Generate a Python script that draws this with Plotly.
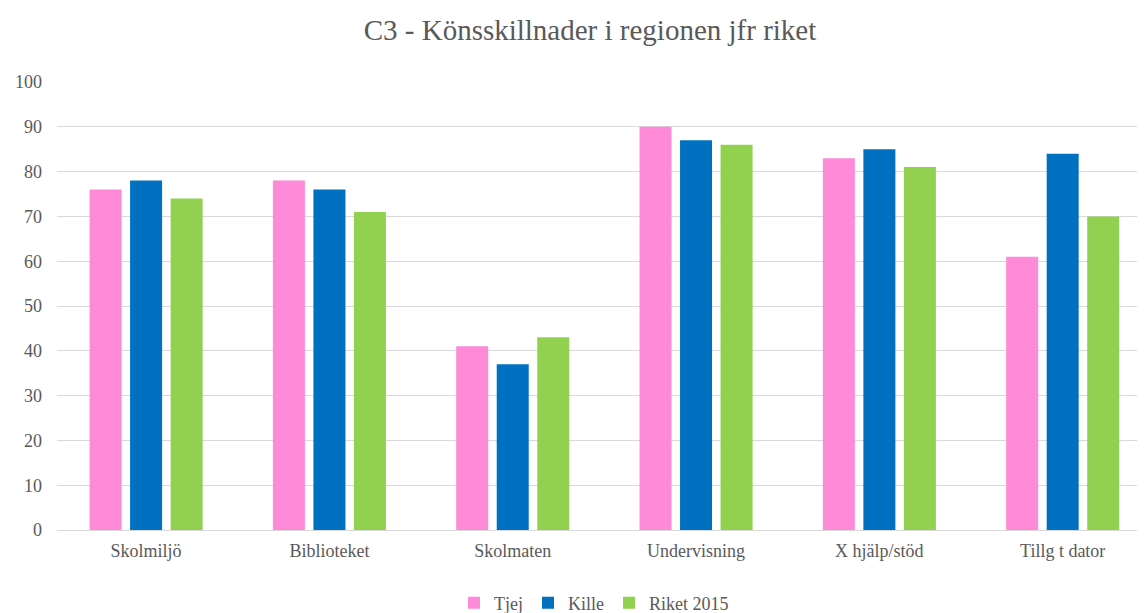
import plotly.graph_objects as go

categories = ["Skolmiljö", "Biblioteket", "Skolmaten", "Undervisning", "X hjälp/stöd", "Tillg t dator"]
tjej = [76, 78, 41, 90, 83, 61]
kille = [78, 76, 37, 87, 85, 84]
riket = [74, 71, 43, 86, 81, 70]
y_ticks = [0, 10, 20, 30, 40, 50, 60, 70, 80, 90, 100]

series = [("Tjej", tjej, "#FF8AD8"), ("Kille", kille, "#0070C0"), ("Riket 2015", riket, "#92D050")]

fig = go.Figure()
for name, vals, col in series:
    fig.add_trace(go.Bar(x=categories, y=vals, name=name, marker=dict(color=col, line=dict(width=0))))

font = "Liberation Serif"
grey = "#595959"
W, H = 1137, 605  # page body has an 8px margin
fig.update_layout(
    width=W, height=H,
    margin=dict(l=49, r=0, t=74, b=83, autoexpand=False),
    paper_bgcolor="white", plot_bgcolor="white",
    barmode="group", bargap=0.337, bargroupgap=0.21,
    title=dict(text="C3 - Könsskillnader i regionen jfr riket", x=(590 - 8) / W, xanchor="center",
               xref="container", y=1 - 22 / H, yanchor="middle", yref="container",
               font=dict(family=font, size=29, color=grey)),
    font=dict(family=font, color=grey),
    legend=dict(orientation="h", x=(594 - 8) / W, xanchor="center", xref="container",
                y=10 / H, yanchor="middle", yref="container",
                font=dict(family=font, size=18, color=grey),
                itemwidth=30, tracegroupgap=0),
    showlegend=True,
)
fig.update_xaxes(range=[-0.486, 5.449], showgrid=False, zeroline=False, showline=False,
                 tickfont=dict(family=font, size=18, color=grey), ticks="",
                 ticklabelstandoff=8, automargin=False)
fig.update_yaxes(range=[0, 100], tickvals=y_ticks, showgrid=True, gridcolor="#D9D9D9",
                 gridwidth=1, zeroline=True, zerolinecolor="#D9D9D9", zerolinewidth=1,
                 showline=False, ticks="", tickfont=dict(family=font, size=18, color=grey),
                 ticklabelstandoff=14, automargin=False)

fig.write_html("out.html")
